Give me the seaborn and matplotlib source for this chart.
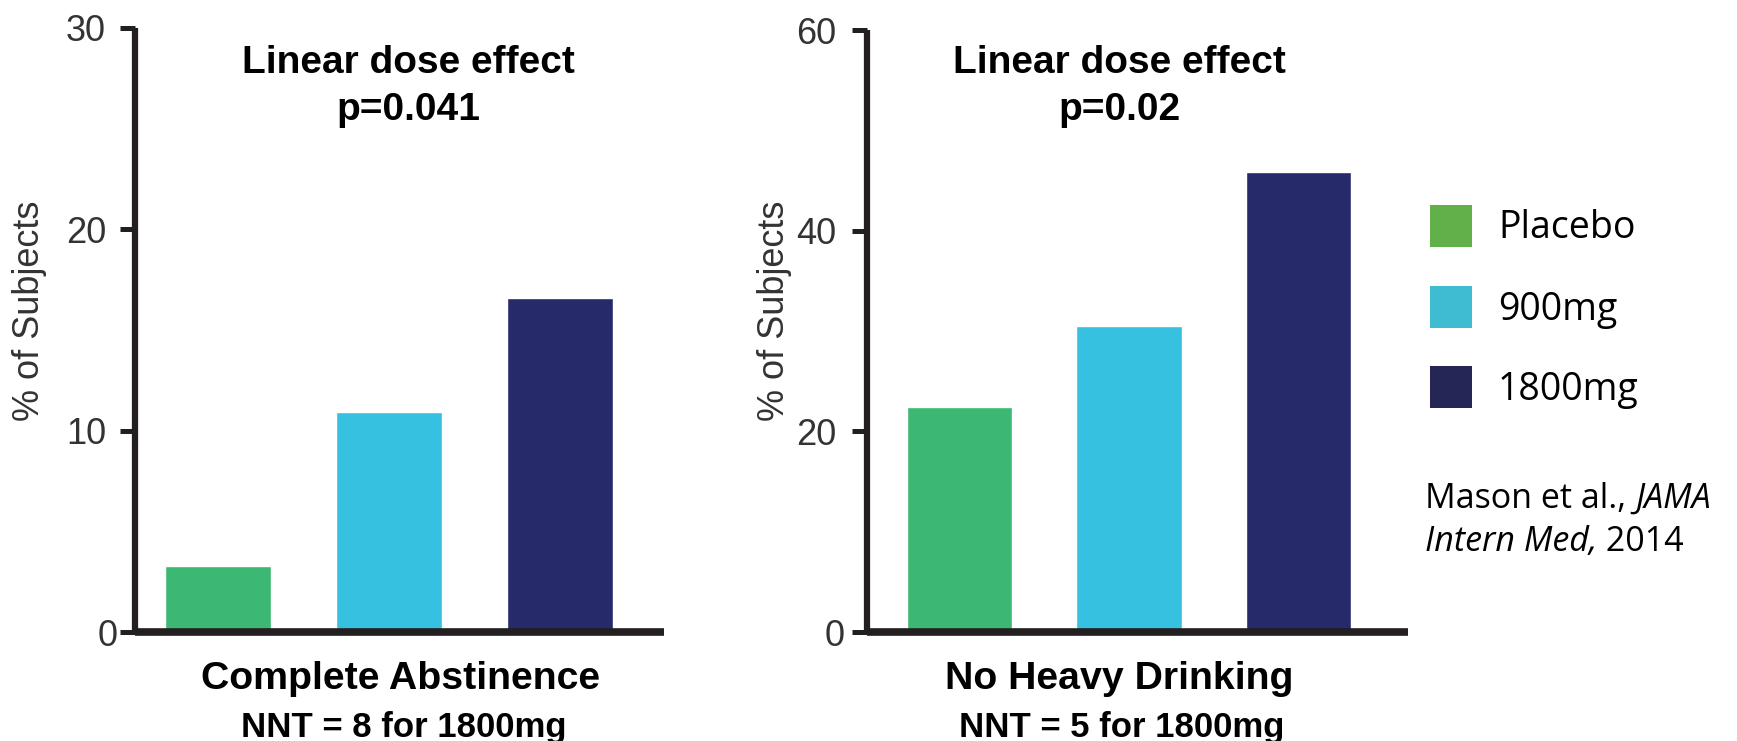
import matplotlib
matplotlib.use("Agg")
import matplotlib.pyplot as plt
import seaborn as sns
import pandas as pd
from matplotlib.patches import Rectangle
from matplotlib.transforms import ScaledTranslation

# ---------------- data ----------------
groups = ["Placebo", "900mg", "1800mg"]
abstinence_pct = [3.3, 10.9, 16.6]
no_heavy_pct = [22.4, 30.5, 45.8]
left_ticks = [0, 10, 20, 30]
right_ticks = [0, 20, 40, 60]
bar_colors = ["#3cb872", "#35c1df", "#262a6a"]
legend_colors = ["#62b04a", "#3fbcd1", "#262656"]
left_title = ["Linear dose effect", "p=0.041"]
right_title = ["Linear dose effect", "p=0.02"]
left_caption = ["Complete Abstinence", "NNT = 8 for 1800mg"]
right_caption = ["No Heavy Drinking", "NNT = 5 for 1800mg"]
y_label = "% of Subjects"

sns.set_style("white")
plt.rcParams["font.family"] = ["Liberation Sans", "DejaVu Sans"]

W, H = 1737, 741
fig = plt.figure(figsize=(W / 100, H / 100), dpi=100)


def fx(px):
    return px / W


def fy(py):
    return 1 - py / H


def make_axes(left, right, bottom, top):
    return fig.add_axes([fx(left), fy(bottom), fx(right) - fx(left), (bottom - top) / H])


ax1 = make_axes(135, 664, 632, 27.5)
ax2 = make_axes(867, 1408, 632, 30)

spine_col = "#231f20"
tick_col = "#333333"


def draw_panel(ax, values, ticks, xlim, pad_pt, zero_shift_px):
    df = pd.DataFrame({"group": groups, "value": values})
    sns.barplot(data=df, x="group", y="value", hue="group", palette=bar_colors,
                width=0.62, saturation=1, legend=False, ax=ax, order=groups,
                hue_order=groups)
    ax.set_ylim(ticks[0], ticks[-1])
    ax.set_yticks(ticks)
    ax.set_yticklabels([str(t) for t in ticks])
    ax.set_xlim(*xlim)
    ax.set_xticks([])
    ax.set_xlabel("")
    ax.set_ylabel("")
    for s in ["top", "right"]:
        ax.spines[s].set_visible(False)
    ax.spines["left"].set_linewidth(4.5)
    ax.spines["bottom"].set_linewidth(5.5)
    for s in ["left", "bottom"]:
        ax.spines[s].set_color(spine_col)
        ax.spines[s].set_capstyle("butt")
    ax.tick_params(axis="y", which="major", length=10.8, width=3.6, color=spine_col,
                   direction="out", left=True, labelsize=26, labelcolor=tick_col,
                   pad=pad_pt)
    ax.grid(False)
    ax.patch.set_alpha(0)
    # the zero label sits closer to the axis in the reference
    lab = ax.yaxis.get_major_ticks()[0].label1
    lab.set_transform(lab.get_transform() +
                      ScaledTranslation(zero_shift_px / 100, 0, fig.dpi_scale_trans))


draw_panel(ax1, abstinence_pct, left_ticks, (-0.485, 2.61), 10, 12)
draw_panel(ax2, no_heavy_pct, right_ticks, (-0.546, 2.646), 11, 8)

bold = dict(fontfamily=["Liberation Sans", "DejaVu Sans"], fontweight="bold",
            color="black", ha="center", va="baseline")

# titles
for cx, lines in [(408, left_title), (1119, right_title)]:
    fig.text(fx(cx), fy(73), lines[0], fontsize=28, **bold)
    fig.text(fx(cx), fy(120), lines[1], fontsize=28, **bold)

# captions
for cx, lines in [(401, left_caption), (1119, right_caption)]:
    fig.text(fx(cx), fy(689), lines[0], fontsize=28.3, **bold)
    fig.text(fx(cx + 3), fy(737), lines[1], fontsize=25, **bold)

# y labels
for cx in [30, 775]:
    fig.text(fx(cx), fy(311), y_label, rotation=90, ha="center", va="center",
             fontsize=26, color=tick_col)

# legend
sq_tops = [205, 286, 366]
baselines = [238, 320, 400]
for lab, col, top, base in zip(groups, legend_colors, sq_tops, baselines):
    fig.add_artist(Rectangle((fx(1430), fy(top + 42)), 42 / W, 42 / H,
                             transform=fig.transFigure, facecolor=col,
                             edgecolor="none"))
    fig.text(fx(1498), fy(base), lab, fontsize=27, fontfamily=["Open Sans", "DejaVu Sans"],
             color="black", ha="left", va="baseline")

# citation
cit = dict(fontsize=24.5, fontfamily=["Open Sans", "DejaVu Sans"], color="black")
t1 = fig.text(fx(1425), fy(508), "Mason et al., ", ha="left", va="baseline", **cit)
ax2.annotate("JAMA", xy=(1, 0), xycoords=t1, ha="left", va="bottom",
             fontstyle="italic", annotation_clip=False, **cit)
t3 = fig.text(fx(1425), fy(551), "Intern Med,", ha="left", va="baseline",
              fontstyle="italic", **cit)
ax2.annotate(" 2014", xy=(1, 0), xycoords=t3, ha="left", va="bottom",
             annotation_clip=False, **cit)

fig.savefig("out.png", dpi=100)
